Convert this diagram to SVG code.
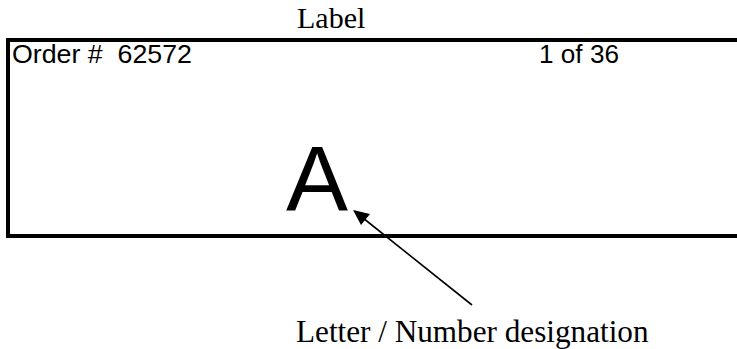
<svg xmlns="http://www.w3.org/2000/svg" width="737" height="349" viewBox="0 0 737 349">
<style>
.serif{font-family:"Liberation Serif","Times New Roman",serif;fill:#000}
.sans{font-family:"Liberation Sans",Arial,sans-serif;fill:#000}
</style>
<rect width="737" height="349" fill="#fff"/>
<text class="serif" x="297" y="28" font-size="30">Label</text>
<g id="label">
<path d="M737,40 H8 V236 H737" fill="none" stroke="#000" stroke-width="4"/>
<text class="sans" x="12" y="63" font-size="26" xml:space="preserve" textLength="180" lengthAdjust="spacingAndGlyphs">Order #  62572</text>
<text class="sans" x="539" y="63" font-size="26" textLength="80" lengthAdjust="spacingAndGlyphs">1 of 36</text>
<text class="sans" x="286" y="211" font-size="93">A</text>
</g>
<g id="connectors">
<line x1="472" y1="305" x2="358" y2="214" stroke="#000" stroke-width="1.6"/>
<path d="M353,210 L370,214 L361,225 z" fill="#000"/>
</g>
<text class="serif" x="296" y="342" font-size="31.2">Letter / Number designation</text>
</svg>
